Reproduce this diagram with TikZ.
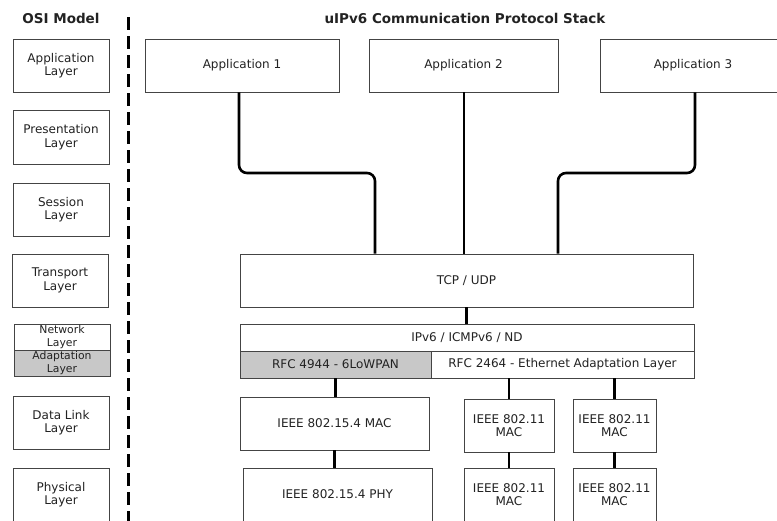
\documentclass[tikz,border=0pt]{standalone}
\usepackage{fontspec}
\setmainfont{DejaVu Sans}
\begin{document}
\begin{tikzpicture}[x=1pt,y=-1pt,
  box/.style={draw=boxline, line width=0.9pt, fill=white, inner sep=0pt,
    align=center, text=txt, font=\fontsize{12}{13.5}\selectfont},
  shaded/.style={box, fill=adaptfill},
  slim/.style={box, font=\fontsize{10.8}{12.2}\selectfont},
  conn/.style={line width=2.6pt, black, rounded corners=8pt},
  heading/.style={font=\bfseries\fontsize{13.5}{15}\selectfont, text=txt, inner sep=0pt}]
\definecolor{boxline}{HTML}{444444}
\definecolor{txt}{HTML}{222222}
\definecolor{adaptfill}{HTML}{C8C8C8}
\useasboundingbox (0,0) rectangle (777,520);
\clip (0,0) rectangle (777,520);

% headings
\node[heading] (osititle) at (61,18) {OSI Model};
\node[heading] (stacktitle) at (465,18) {uIPv6 Communication Protocol Stack};

% separator
\draw[line width=3pt, dash pattern=on 13pt off 6pt] (128,17) -- (128,525);

% OSI reference layers
\node[box, minimum width=96, minimum height=53] (osiapp)   at (61,65.5)  {Application\\Layer};
\node[box, minimum width=96, minimum height=54] (osipres)  at (61,137)   {Presentation\\Layer};
\node[box, minimum width=96, minimum height=53] (osisess)  at (61,209.5) {Session\\Layer};
\node[box, minimum width=96, minimum height=53] (ositrans) at (60,280.5)  {Transport\\Layer};
\node[slim, minimum width=96, minimum height=26] (osinet)  at (62,337)   {Network\\Layer};
\node[slim, fill=adaptfill, minimum width=96, minimum height=26] (osiadapt) at (62,363) {Adaptation\\Layer};
\node[box, minimum width=96, minimum height=53] (osidl)    at (61,422.5) {Data Link\\Layer};
\node[box, minimum width=96, minimum height=53] (osiphy)   at (61,494.5) {Physical\\Layer};

% applications
\node[box, minimum width=194, minimum height=53] (app1) at (242,65.5)   {Application 1};
\node[box, minimum width=189, minimum height=53] (app2) at (463.5,65.5) {Application 2};
\node[box, minimum width=186, minimum height=53] (app3) at (693,65.5)   {Application 3};

% transport and network
\node[box, minimum width=453, minimum height=53] (tcp)  at (466.5,280.5) {TCP / UDP};
\node[box, minimum width=454, minimum height=27] (ipv6) at (467,337.5)   {IPv6 / ICMPv6 / ND};
\node[shaded, minimum width=191, minimum height=27] (rfc4944) at (335.5,364.5) {RFC 4944 - 6LoWPAN};
\node[box, minimum width=263, minimum height=27] (rfc2464) at (562.5,364.5) {RFC 2464 - Ethernet Adaptation Layer};

% link and physical
\node[box, minimum width=189, minimum height=53] (mac154) at (334.5,423.5) {IEEE 802.15.4 MAC};
\node[box, minimum width=189, minimum height=53] (phy154) at (337.5,494.5) {IEEE 802.15.4 PHY};
\node[box, minimum width=90, minimum height=53] (mac11a) at (509,425.5)   {IEEE 802.11\\MAC};
\node[box, minimum width=83, minimum height=53] (mac11b) at (614.5,425.5) {IEEE 802.11\\MAC};
\node[box, minimum width=90, minimum height=53] (phy11a) at (509,494.5)   {IEEE 802.11\\MAC};
\node[box, minimum width=83, minimum height=53] (phy11b) at (614.5,494.5) {IEEE 802.11\\MAC};

% connectors
\coordinate (j1) at (375,173);
\coordinate (j3) at (558,173);
\draw[conn] ([xshift=-3]app1.south) |- (j1) -- (j1 |- tcp.north);
\draw[conn] ([xshift=0.5]app2.south) -- ([xshift=0.5]app2.south |- tcp.north);
\draw[conn] ([xshift=2]app3.south) |- (j3) -- (j3 |- tcp.north);
\draw[conn] (tcp.south) -- (tcp.south |- ipv6.north);
\draw[conn] (rfc4944.south) -- (rfc4944.south |- mac154.north);
\draw[conn] (mac11a.north |- rfc2464.south) -- (mac11a.north);
\draw[conn] (mac11b.north |- rfc2464.south) -- (mac11b.north);
\draw[conn] (mac154.south) -- (mac154.south |- phy154.north);
\draw[conn] (mac11a.south) -- (phy11a.north);
\draw[conn] (mac11b.south) -- (phy11b.north);
\end{tikzpicture}
\end{document}
